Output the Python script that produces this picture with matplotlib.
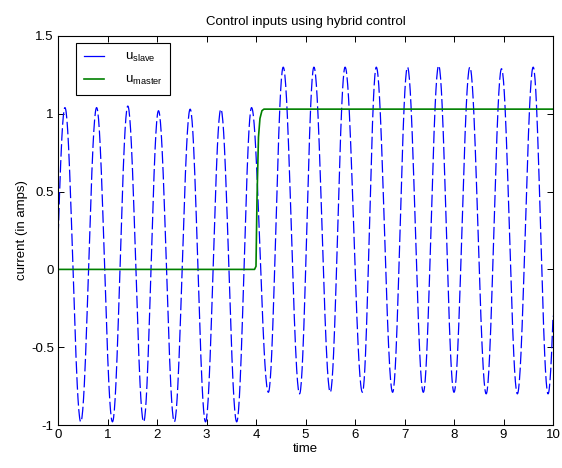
import numpy as np
import matplotlib
matplotlib.use("Agg")
import matplotlib.pyplot as plt

plt.rcParams['font.family'] = ['Liberation Sans', 'DejaVu Sans']
plt.rcParams['lines.scale_dashes'] = False
plt.rcParams['mathtext.fontset'] = 'custom'
plt.rcParams['mathtext.rm'] = 'Liberation Sans'

# extrema of u_slave (time, value); first/last lie just outside the axes
slave_t = [-0.17, 0.14, 0.46, 0.78, 1.10, 1.41, 1.73, 2.03, 2.35, 2.67, 2.98, 3.29, 3.61, 3.91,
           4.25, 4.55, 4.88, 5.17, 5.50, 5.80, 6.15, 6.43, 6.76, 7.06, 7.38, 7.69, 8.00,
           8.32, 8.65, 8.96, 9.28, 9.60, 9.90, 10.21]
slave_v = [-0.98, 1.04, -0.98, 1.04, -0.98, 1.05, -0.98, 1.02, -0.98, 1.03, -0.98, 1.03, -0.98, 1.04,
           -0.79, 1.30, -0.80, 1.30, -0.79, 1.30, -0.79, 1.30, -0.79, 1.30, -0.79, 1.31, -0.79,
           1.30, -0.80, 1.29, -0.80, 1.30, -0.80, 1.30]

# u_master step
master_t = [0.0, 3.97, 4.00, 4.02, 4.05, 4.08, 4.12, 4.16, 10.0]
master_v = [0.0, 0.0, 0.02, 0.45, 0.85, 0.97, 1.02, 1.03, 1.03]

xticks = [0, 1, 2, 3, 4, 5, 6, 7, 8, 9, 10]
yticks = [-1, -0.5, 0, 0.5, 1, 1.5]
ytick_labels = ['-1', '-0.5', '0', '0.5', '1', '1.5']

# smooth half-cosine swings between consecutive extrema
ts, vs = [], []
for i in range(len(slave_t) - 1):
    s = np.linspace(0, 1, 40, endpoint=False)
    ts.append(slave_t[i] + (slave_t[i + 1] - slave_t[i]) * s)
    vs.append(slave_v[i] + (slave_v[i + 1] - slave_v[i]) * (1 - np.cos(np.pi * s)) / 2)
ts = np.concatenate(ts)
vs = np.concatenate(vs)

fs = 9.5
fig = plt.figure(figsize=(5.62, 4.68), dpi=100)
ax = fig.add_axes([58 / 562, 1 - 425 / 468, 495 / 562, 389 / 468])

ax.plot(ts, vs, color='#0000ff', lw=0.9, dashes=(9, 2.5),
        label=r'u$_{\mathregular{slave}}$')
ax.plot(master_t, master_v, color='#008000', lw=1.2,
        label=r'u$_{\mathregular{master}}$')

ax.set_xlim(0, 10)
ax.set_ylim(-1, 1.5)
ax.set_xticks(xticks)
ax.set_yticks(yticks)
ax.set_yticklabels(ytick_labels)
ax.tick_params(direction='in', length=4, width=0.7, top=True, right=True,
               labelsize=fs, pad=3)
for sp in ax.spines.values():
    sp.set_linewidth(0.8)

ax.set_title('Control inputs using hybrid control', fontsize=fs, pad=8)
ax.set_xlabel('time', fontsize=fs, labelpad=1)
ax.set_ylabel('current (in amps)', fontsize=fs, labelpad=2)

leg = ax.legend(loc='upper left', bbox_to_anchor=(0.036, 0.982), fontsize=fs,
                fancybox=False, edgecolor='black', framealpha=1,
                handlelength=1.5, handletextpad=1.6, borderpad=0.6,
                labelspacing=0.75, borderaxespad=0)
leg.get_frame().set_linewidth(0.8)
leg.get_lines()[0].set_linestyle('-')

fig.savefig('out.png', dpi=100, facecolor='white')
